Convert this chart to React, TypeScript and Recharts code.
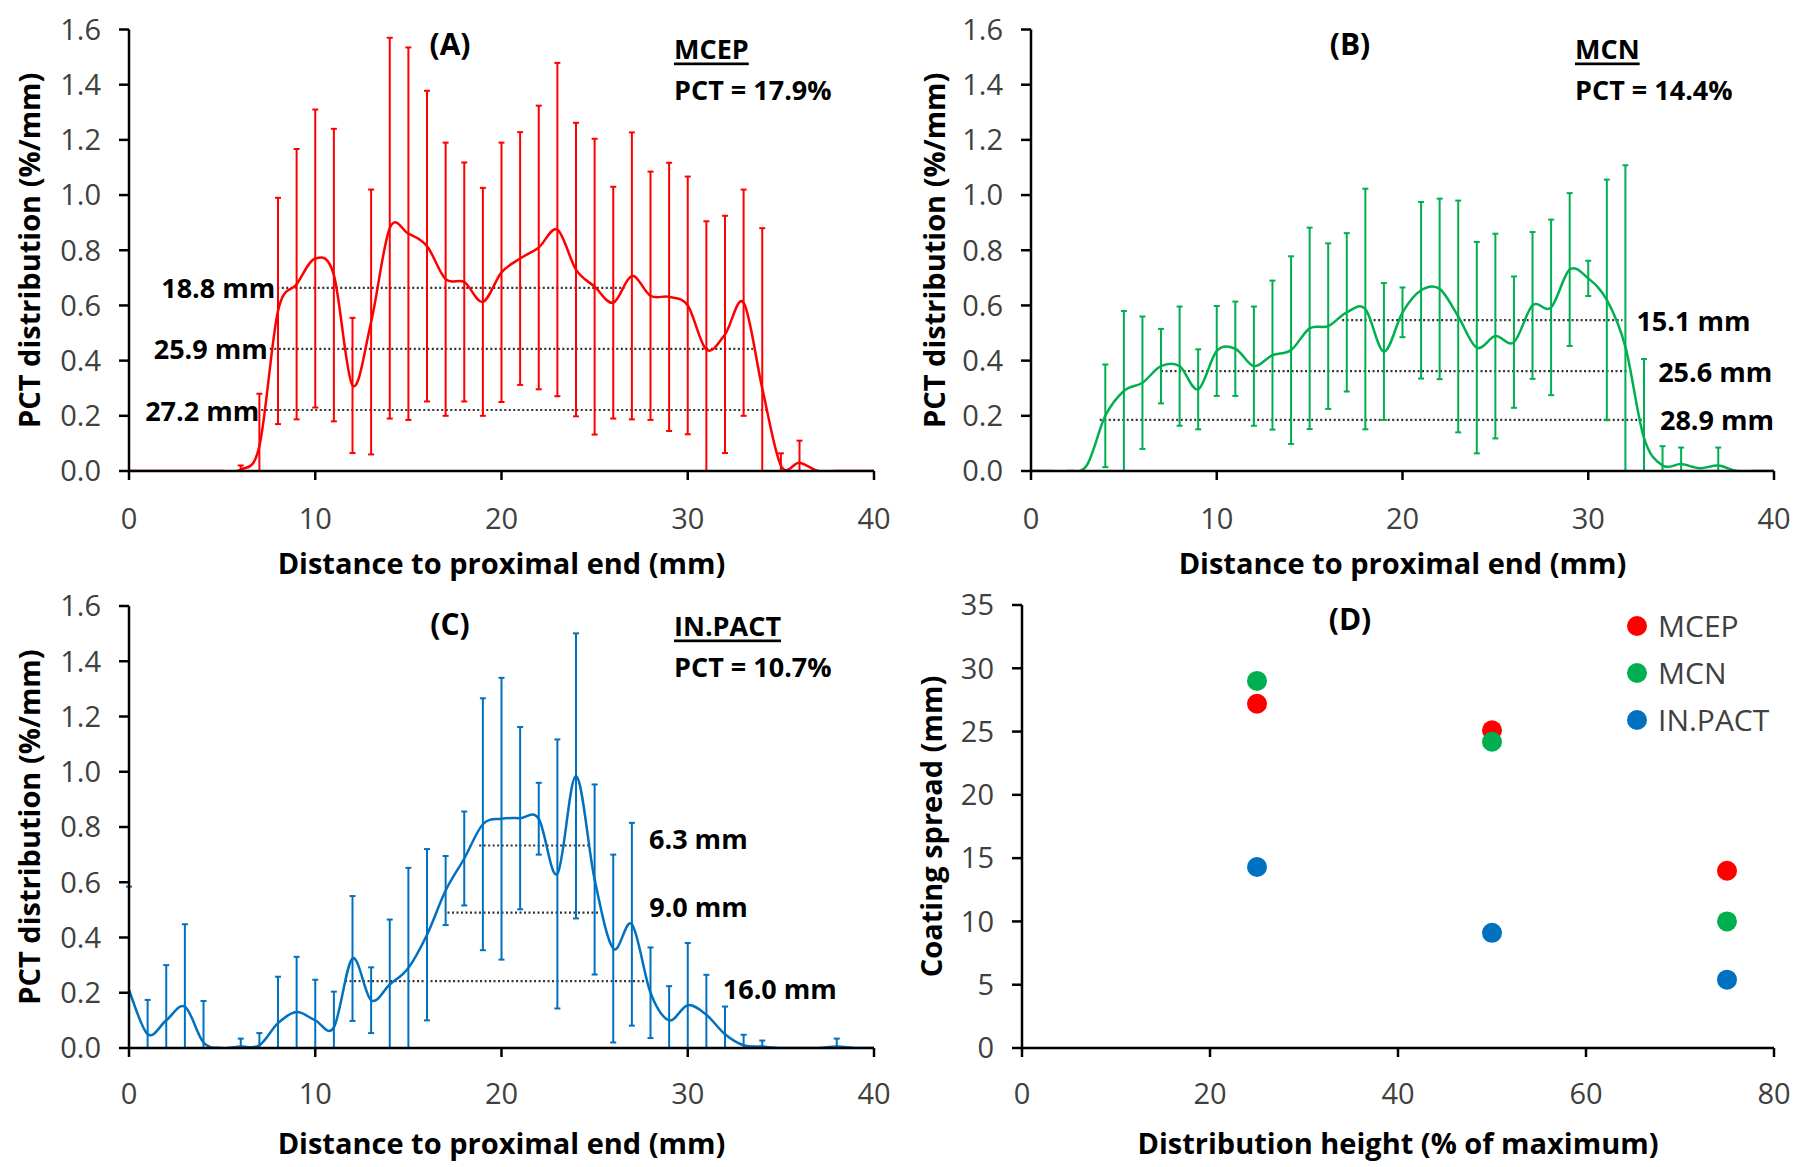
import React from 'react';
import { ComposedChart, Line, ErrorBar, XAxis, YAxis, ReferenceLine, ScatterChart, Scatter, Legend } from 'recharts';

// distance along the balloon (mm), one point per mm
const distance = [0, 1, 2, 3, 4, 5, 6, 7, 8, 9, 10, 11, 12, 13, 14, 15, 16, 17, 18, 19, 20, 21, 22, 23, 24, 25, 26, 27, 28, 29, 30, 31, 32, 33, 34, 35, 36, 37, 38, 39, 40];
const distanceTicks = [0, 10, 20, 30, 40];
const pctTicks = [0, 0.2, 0.4, 0.6, 0.8, 1.0, 1.2, 1.4, 1.6];

// (A) MCEP
const mcepMean = [0, 0, 0, 0, 0, 0, 0.005, 0.09, 0.58, 0.677, 0.77, 0.71, 0.31, 0.54, 0.88, 0.86, 0.815, 0.695, 0.685, 0.613, 0.72, 0.77, 0.81, 0.875, 0.73, 0.668, 0.61, 0.707, 0.635, 0.631, 0.6, 0.44, 0.495, 0.61, 0.3, 0.02, 0.03, 0, 0, 0, 0];
const mcepSd = [0, 0, 0, 0, 0, 0, 0.015, 0.19, 0.41, 0.49, 0.54, 0.53, 0.245, 0.48, 0.69, 0.675, 0.563, 0.495, 0.433, 0.413, 0.47, 0.458, 0.514, 0.604, 0.532, 0.536, 0.42, 0.52, 0.45, 0.486, 0.467, 0.465, 0.43, 0.41, 0.58, 0.044, 0.08, 0, 0, 0, 0];
const mcepLevels = [0.664, 0.4425, 0.221];
const mcepLevelStart = [7.96, 7.56, 7.1];
const mcepLevelEnd = [26.6, 33.5, 34.3];
const mcepLevelLabels = ['18.8 mm', '25.9 mm', '27.2 mm'];

// (B) MCN
const mcnMean = [0, 0, 0, 0.02, 0.2, 0.29, 0.32, 0.38, 0.38, 0.296, 0.435, 0.443, 0.38, 0.42, 0.438, 0.517, 0.525, 0.575, 0.587, 0.433, 0.575, 0.655, 0.66, 0.56, 0.447, 0.489, 0.467, 0.6, 0.593, 0.73, 0.698, 0.62, 0.45, 0.12, 0.02, 0.025, 0.01, 0.02, 0, 0, 0];
const mcnSd = [0, 0, 0, 0, 0.186, 0.29, 0.24, 0.135, 0.216, 0.145, 0.163, 0.171, 0.216, 0.27, 0.34, 0.365, 0.3, 0.287, 0.436, 0.248, 0.09, 0.32, 0.327, 0.42, 0.383, 0.371, 0.238, 0.266, 0.318, 0.277, 0.064, 0.436, 0.658, 0.286, 0.07, 0.06, 0, 0.065, 0, 0, 0];
const mcnLevels = [0.547, 0.362, 0.185];
const mcnLevelStart = [16.75, 7.0, 3.7];
const mcnLevelEnd = [31.84, 32.15, 33.0];
const mcnLevelLabels = ['15.1 mm', '25.6 mm', '28.9 mm'];

// (C) IN.PACT
const inpactMean = [0.21, 0.05, 0.1, 0.15, 0.02, 0, 0.005, 0.01, 0.09, 0.13, 0.1, 0.075, 0.324, 0.173, 0.23, 0.29, 0.41, 0.57, 0.686, 0.81, 0.83, 0.832, 0.83, 0.63, 0.985, 0.61, 0.36, 0.448, 0.2, 0.1, 0.155, 0.12, 0.05, 0.01, 0.005, 0, 0, 0, 0.005, 0, 0];
const inpactSd = [0.374, 0.124, 0.2, 0.298, 0.15, 0, 0.029, 0.044, 0.168, 0.2, 0.147, 0.129, 0.226, 0.119, 0.235, 0.362, 0.31, 0.125, 0.17, 0.456, 0.51, 0.33, 0.13, 0.487, 0.516, 0.344, 0.34, 0.367, 0.164, 0.124, 0.225, 0.145, 0.1, 0.038, 0.022, 0, 0, 0, 0.029, 0, 0];
const inpactLevels = [0.733, 0.49, 0.242];
const inpactLevelStart = [18.8, 17.1, 11.6];
const inpactLevelEnd = [24.7, 25.3, 27.8];
const inpactLevelLabels = ['6.3 mm', '9.0 mm', '16.0 mm'];

// (D) coating spread vs distribution height
const heightPct = [25, 50, 75];
const spreadMcep = [27.2, 25.1, 14.0];
const spreadMcn = [29.0, 24.2, 10.0];
const spreadInpact = [14.3, 9.1, 5.4];
const heightTicks = [0, 20, 40, 60, 80];
const spreadTicks = [0, 5, 10, 15, 20, 25, 30, 35];

const RED = '#FF0000';
const GREEN = '#00B050';
const BLUE = '#0070C0';
const FONT = "'Open Sans', 'Liberation Sans', sans-serif";

const axisLine = { stroke: '#000', strokeWidth: 2.5 };
const tickLine = { stroke: '#000', strokeWidth: 2.5 };
const tickText = { fill: '#404040', fontSize: 29 };
const titleText = { fill: '#000', fontSize: 29, fontWeight: 700 };

// Excel-style smoothed line (Catmull-Rom through every point)
const smoothCurve: any = (context: any) => {
  let pts: number[][] = [];
  return {
    areaStart() {},
    areaEnd() {},
    lineStart() { pts = []; },
    point(x: number, y: number) { pts.push([+x, +y]); },
    lineEnd() {
      if (!pts.length) return;
      context.moveTo(pts[0][0], pts[0][1]);
      for (let i = 0; i < pts.length - 1; i++) {
        const p0 = pts[i - 1] || pts[i];
        const p1 = pts[i];
        const p2 = pts[i + 1];
        const p3 = pts[i + 2] || p2;
        context.bezierCurveTo(
          p1[0] + (p2[0] - p0[0]) / 6, p1[1] + (p2[1] - p0[1]) / 6,
          p2[0] - (p3[0] - p1[0]) / 6, p2[1] - (p3[1] - p1[1]) / 6,
          p2[0], p2[1],
        );
      }
    },
  };
};

const levelLabel = (text: string, side: 'left' | 'right', gap: number, dy: number) => (props: any) => {
  const vb = props.viewBox || { x: 0, y: 0, width: 0, height: 0 };
  const x = side === 'left' ? vb.x - gap : vb.x + vb.width + gap;
  return (
    <text x={x} y={vb.y + dy} textAnchor={side === 'left' ? 'end' : 'start'} dominantBaseline="central"
      fill="#000" fontSize={27} fontWeight={700} fontFamily={FONT}>{text}</text>
  );
};

const DistributionPanel = ({ box, mean, sd, color, levels, starts, ends, labels, side, gaps, shifts }: any) => {
  const data = distance.map((x, i) => ({
    x,
    mean: mean[i],
    err: sd[i] > 0 ? [Math.min(sd[i], mean[i]), sd[i]] : null,
  }));
  return (
    <div style={{ position: 'absolute', left: box.left, top: box.top }}>
      <ComposedChart width={box.width} height={box.height} data={data}
        margin={{ top: box.mt, right: box.mr, bottom: 0, left: 0 }}>
        <XAxis type="number" dataKey="x" domain={[0, 40]} ticks={distanceTicks} allowDataOverflow
          height={box.xh} tickSize={9} tickMargin={box.xtm} axisLine={axisLine} tickLine={tickLine} tick={tickText}
          label={{ value: 'Distance to proximal end (mm)', position: 'insideBottom', offset: box.xlo, ...titleText }} />
        <YAxis type="number" domain={[0, 1.6]} ticks={pctTicks} allowDataOverflow width={box.yw}
          tickSize={10} tickMargin={18} axisLine={axisLine} tickLine={tickLine} tick={tickText}
          tickFormatter={(v: number) => v.toFixed(1)}
          label={{ value: 'PCT distribution (%/mm)', angle: -90, position: 'insideLeft', offset: box.ylo, style: { textAnchor: 'middle' }, ...titleText }} />
        {levels.map((y: number, i: number) => (
          <ReferenceLine key={labels[i]} segment={[{ x: starts[i], y }, { x: ends[i], y }]} ifOverflow="visible"
            stroke="#333" strokeWidth={2.2} strokeDasharray="2 2.5"
            label={levelLabel(labels[i], side, gaps[i], shifts[i])} />
        ))}
        <Line type={smoothCurve} dataKey="mean" stroke={color} strokeWidth={2.5} dot={false} isAnimationActive={false}>
          <ErrorBar dataKey="err" direction="y" stroke={color} strokeWidth={2} width={3} />
        </Line>
      </ComposedChart>
    </div>
  );
};

const spreadSeries = [
  { name: 'MCEP', color: RED, values: spreadMcep },
  { name: 'MCN', color: GREEN, values: spreadMcn },
  { name: 'IN.PACT', color: BLUE, values: spreadInpact },
];

const SpreadLegend = () => (
  <div style={{ fontFamily: FONT }}>
    {spreadSeries.map((s) => (
      <div key={s.name} style={{ display: 'flex', alignItems: 'center', height: 47 }}>
        <span style={{ width: 20, height: 20, borderRadius: 10, background: s.color, display: 'inline-block', marginRight: 11 }} />
        <span style={{ fontSize: 30, color: '#404040' }}>{s.name}</span>
      </div>
    ))}
  </div>
);

const SpreadPanel = () => (
  <div style={{ position: 'absolute', left: 900, top: 583 }}>
    <ScatterChart width={900} height={584} margin={{ top: 22, right: 26, bottom: 0, left: 0 }}>
      <XAxis type="number" dataKey="h" domain={[0, 80]} ticks={heightTicks} allowDataOverflow
        height={119} tickSize={9} tickMargin={26} axisLine={axisLine} tickLine={tickLine} tick={tickText}
        label={{ value: 'Distribution height (% of maximum)', position: 'insideBottom', offset: 13, ...titleText }} />
      <YAxis type="number" dataKey="s" domain={[0, 35]} ticks={spreadTicks} allowDataOverflow width={122}
        tickSize={10} tickMargin={18} axisLine={axisLine} tickLine={tickLine} tick={tickText}
        label={{ value: 'Coating spread (mm)', angle: -90, position: 'insideLeft', offset: 32, style: { textAnchor: 'middle' }, ...titleText }} />
      <Legend layout="vertical" align="center" verticalAlign="middle" content={<SpreadLegend />}
        wrapperStyle={{ left: 727, top: 19, width: 200, height: 141 }} />
      {spreadSeries.map((s) => (
        <Scatter key={s.name} name={s.name} fill={s.color} isAnimationActive={false}
          data={heightPct.map((h, i) => ({ h, s: s.values[i] }))}
          shape={(p: any) => <circle cx={p.cx} cy={p.cy} r={10} fill={s.color} />} />
      ))}
    </ScatterChart>
  </div>
);

const panelTitles = [
  { text: '(A)', x: 450, y: 43 },
  { text: '(B)', x: 1350, y: 43 },
  { text: '(C)', x: 450, y: 623 },
  { text: '(D)', x: 1350, y: 618 },
];
const productNotes = [
  { name: 'MCEP', pct: 'PCT = 17.9%', x: 674, y: 48 },
  { name: 'MCN', pct: 'PCT = 14.4%', x: 1575, y: 48 },
  { name: 'IN.PACT', pct: 'PCT = 10.7%', x: 674, y: 625 },
];

export default function App() {
  return (
    <div style={{ position: 'absolute', left: 0, top: 0, width: 1800, height: 1167, background: '#fff', fontFamily: FONT }}>
      <DistributionPanel box={{ left: 0, top: 0, width: 900, height: 583, mt: 29.5, mr: 26, xh: 112, xtm: 28, xlo: 9, yw: 129, ylo: 30 }}
        mean={mcepMean} sd={mcepSd} color={RED} levels={mcepLevels} starts={mcepLevelStart} ends={mcepLevelEnd}
        labels={mcepLevelLabels} side="left" gaps={[2, 2, 2]} shifts={[0, 0, 0]} />
      <DistributionPanel box={{ left: 900, top: 0, width: 900, height: 583, mt: 29.5, mr: 26, xh: 112, xtm: 28, xlo: 9, yw: 131, ylo: 35 }}
        mean={mcnMean} sd={mcnSd} color={GREEN} levels={mcnLevels} starts={mcnLevelStart} ends={mcnLevelEnd}
        labels={mcnLevelLabels} side="right" gaps={[14, 30, 16]} shifts={[0, 0, 0]} />
      <DistributionPanel box={{ left: 0, top: 583, width: 900, height: 584, mt: 23, mr: 26, xh: 119, xtm: 26, xlo: 13, yw: 129, ylo: 30 }}
        mean={inpactMean} sd={inpactSd} color={BLUE} levels={inpactLevels} starts={inpactLevelStart} ends={inpactLevelEnd}
        labels={inpactLevelLabels} side="right" gaps={[60, 49, 76]} shifts={[-7, -6, 7]} />
      <SpreadPanel />
      <svg width={1800} height={1167} style={{ position: 'absolute', left: 0, top: 0, pointerEvents: 'none' }}>
        {panelTitles.map((t) => (
          <text key={t.text} x={t.x} y={t.y} textAnchor="middle" dominantBaseline="central"
            fontFamily={FONT} fontSize={30} fontWeight={700} fill="#000">{t.text}</text>
        ))}
        {productNotes.map((n) => (
          <g key={n.name}>
            <text x={n.x} y={n.y} dominantBaseline="central" fontFamily={FONT} fontSize={27} fontWeight={700}
              fill="#000" textDecoration="underline">{n.name}</text>
            <text x={n.x} y={n.y + 41} dominantBaseline="central" fontFamily={FONT} fontSize={27} fontWeight={700}
              fill="#000">{n.pct}</text>
          </g>
        ))}
      </svg>
    </div>
  );
}
